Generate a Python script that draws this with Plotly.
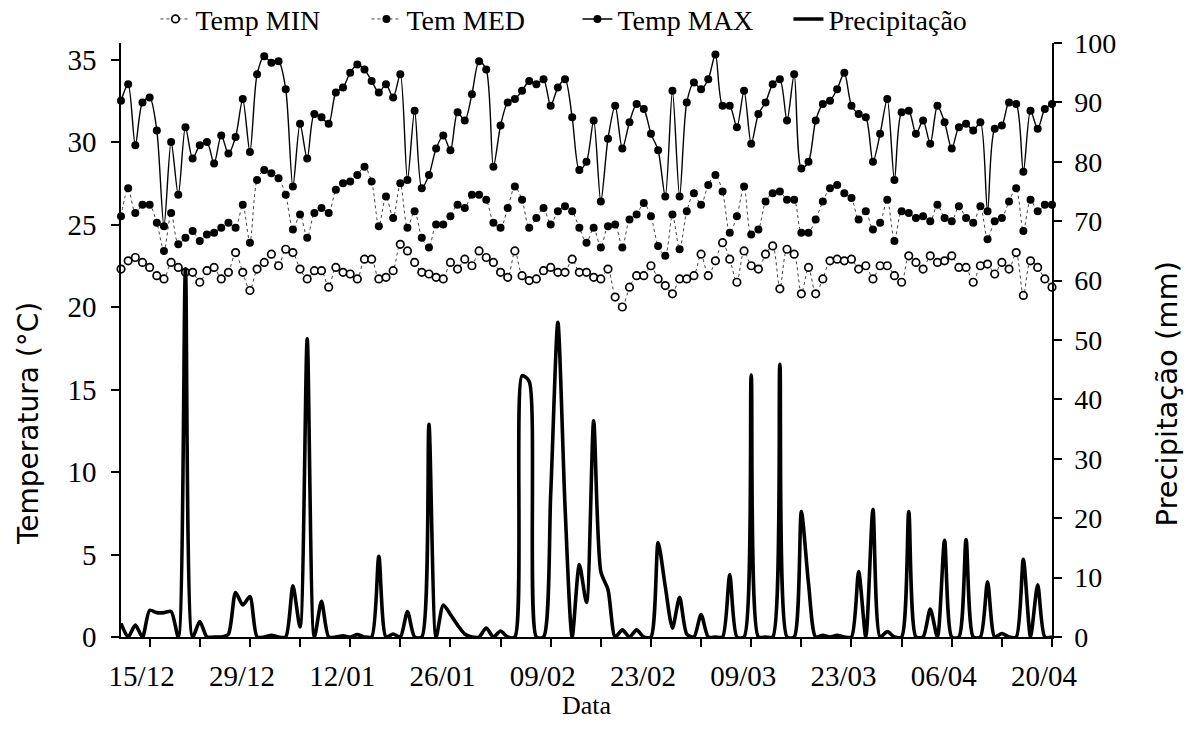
import pandas as pd
import plotly.graph_objects as go

# ---- data (daily, 11/12 to 20/04) ----
start_date = "2014-12-11"
end_date = "2015-04-20"

temp_min = [
    22.3, 22.8, 23.0, 22.7, 22.4, 21.9, 21.7, 22.7, 22.4, 22.1, 22.1, 21.5, 22.2, 22.4, 21.7, 22.1, 23.3,
    22.1, 21.0, 22.3, 22.7, 23.2, 22.5, 23.5, 23.3, 22.3, 21.7, 22.2, 22.2, 21.2, 22.4, 22.1, 22.0, 21.7,
    22.9, 22.9, 21.7, 21.8, 22.2, 23.8, 23.4, 22.7, 22.1, 22.0, 21.8, 21.7, 22.7, 22.3, 22.9, 22.5,
    23.4, 23.0, 22.7, 22.1, 21.8, 23.4, 21.9, 21.6, 21.7, 22.2, 22.4, 22.1, 22.1, 22.9, 22.1, 22.1,
    21.8, 21.7, 22.3, 20.6, 20.0, 21.2, 21.9, 21.9, 22.5, 21.7, 21.3, 20.8, 21.7, 21.7, 21.9, 23.2,
    21.9, 22.8, 23.9, 22.9, 21.5, 23.4, 22.5, 22.3, 23.2, 23.7, 21.1, 23.5, 23.2, 20.8, 22.4, 20.8,
    21.7, 22.8, 22.9, 22.8, 22.9, 22.3, 22.5, 21.7, 22.5, 22.5, 21.9, 21.5, 23.1, 22.7, 22.3, 23.1,
    22.7, 22.8, 23.1, 22.4, 22.4, 21.5, 22.5, 22.6, 22.0, 22.7, 22.3, 23.3, 20.7, 22.8, 22.4, 21.7, 21.2,
]

temp_med = [
    25.5, 27.2, 25.7, 26.2, 26.2, 25.1, 23.4, 25.7, 23.8, 24.2, 24.6, 24.0, 24.4, 24.5, 24.8, 25.1, 24.8,
    26.2, 23.9, 27.7, 28.3, 28.1, 27.8, 26.8, 24.7, 25.6, 24.2, 25.7, 26.0, 25.7, 27.1, 27.5, 27.6, 28.0,
    28.5, 27.6, 24.9, 26.7, 25.4, 27.5, 24.8, 25.8, 24.2, 23.6, 25.0, 25.0, 25.5, 26.2, 26.0, 26.8,
    26.8, 26.5, 25.1, 24.8, 26.0, 27.3, 26.5, 24.8, 25.4, 26.0, 25.0, 25.8, 26.1, 25.8, 24.8, 23.9,
    24.8, 23.6, 24.9, 25.0, 23.6, 25.3, 25.6, 26.3, 25.5, 23.7, 23.1, 25.6, 23.5, 25.8, 26.9, 26.2,
    27.4, 28.0, 27.0, 24.5, 25.5, 27.3, 24.4, 24.7, 26.4, 26.9, 27.0, 26.5, 26.5, 24.5, 24.5, 25.3,
    26.4, 27.2, 27.4, 26.9, 26.6, 25.3, 25.8, 24.7, 25.1, 26.5, 24.0, 25.8, 25.7, 25.4, 25.5, 25.2,
    26.2, 25.4, 25.2, 26.1, 25.4, 25.1, 26.1, 24.1, 25.2, 25.4, 26.4, 27.2, 24.6, 26.5, 25.8, 26.2, 26.2,
]

temp_max = [
    32.5, 33.5, 29.8, 32.4, 32.7, 30.7, 24.9, 30.0, 26.8, 30.9, 29.0, 29.8, 30.0, 28.7, 30.4, 29.3, 30.3,
    32.6, 29.4, 34.1, 35.2, 34.8, 34.9, 33.2, 27.3, 31.1, 29.0, 31.7, 31.5, 31.1, 33.0, 33.3, 34.2, 34.7,
    34.4, 33.7, 33.0, 33.5, 32.7, 34.1, 27.7, 31.9, 27.2, 28.0, 29.6, 30.4, 29.5, 31.8, 31.3, 32.9,
    34.9, 34.4, 28.5, 31.0, 32.4, 32.6, 33.1, 33.7, 33.5, 33.8, 32.2, 33.3, 33.8, 31.5, 28.3, 28.8,
    31.3, 26.4, 30.2, 32.2, 29.6, 31.2, 32.3, 32.0, 30.5, 29.5, 26.7, 33.1, 26.7, 32.4, 33.6, 33.2,
    33.8, 35.3, 32.2, 32.2, 30.9, 33.1, 29.9, 31.7, 32.4, 33.5, 33.8, 31.3, 34.1, 28.4, 28.8, 31.3,
    32.3, 32.5, 33.2, 34.2, 32.2, 31.7, 31.5, 28.8, 30.5, 32.6, 27.7, 31.8, 31.9, 30.5, 31.3, 29.9,
    32.2, 31.2, 29.6, 30.9, 31.1, 30.7, 31.2, 25.8, 30.8, 31.0, 32.4, 32.3, 28.2, 31.9, 30.8, 32.0, 32.3,
]

precip = [
    2.3, 0, 2.0, 0, 4.5, 4.1, 4.1, 4.3, 0, 62.0,
    0, 2.6, 0, 0, 0, 0.5, 7.5, 5.4, 6.8, 0,
    0, 0.3, 0, 0, 8.6, 1.7, 50.2, 0, 6.0, 0,
    0, 0.2, 0, 0.4, 0, 0, 13.6, 0, 0.5, 0,
    4.3, 0, 0, 35.8, 0, 5.4, 3.8, 2.0, 0.5, 0,
    0, 1.5, 0, 1.0, 0, 0, 44.0, 43.0, 0, 0,
    24.0, 53.0, 22.0, 0, 12.2, 5.8, 36.4, 11.0, 8.0, 0,
    1.2, 0, 1.2, 0, 0, 15.9, 8.5, 1.5, 6.7, 0.5,
    0, 3.8, 0, 0, 0, 10.5, 0, 0, 44.1, 0,
    0, 0, 45.9, 0, 0, 21.1, 9.0, 0, 0.3, 0,
    0.3, 0, 0, 11.0, 0, 21.5, 0, 0.9, 0, 0,
    21.1, 0, 0, 4.7, 0, 16.3, 0, 0, 16.4, 0,
    0, 9.3, 0, 0.6, 0, 0, 13.1, 0, 8.8, 0,
    0,
]

x_tick_dates = ["2014-12-15", "2014-12-22", "2014-12-29", "2015-01-05", "2015-01-12", "2015-01-19",
                "2015-01-26", "2015-02-02", "2015-02-09", "2015-02-16", "2015-02-23", "2015-03-02",
                "2015-03-09", "2015-03-16", "2015-03-23", "2015-03-30", "2015-04-06", "2015-04-13",
                "2015-04-20"]
x_tick_labels = ["15/12", "", "29/12", "", "12/01", "", "26/01", "", "09/02", "", "23/02", "",
                 "09/03", "", "23/03", "", "06/04", "", "20/04"]
y_ticks = [0, 5, 10, 15, 20, 25, 30, 35]
y2_ticks = [0, 10, 20, 30, 40, 50, 60, 70, 80, 90, 100]

dates = pd.date_range(start_date, end_date, freq="D")

SERIF = "Liberation Serif"
SANS = "DejaVu Sans"

fig = go.Figure()

fig.add_trace(go.Scatter(
    x=dates, y=temp_min, name="Temp MIN", mode="lines+markers", cliponaxis=False,
    line=dict(color="#444", width=1, dash="dot", shape="spline", smoothing=0.8),
    marker=dict(symbol="circle", size=7.5, color="white", line=dict(color="black", width=1.7)),
))
fig.add_trace(go.Scatter(
    x=dates, y=temp_med, name="Tem MED", mode="lines+markers", cliponaxis=False,
    line=dict(color="#444", width=1, dash="dot", shape="spline", smoothing=0.8),
    marker=dict(symbol="circle", size=8, color="black"),
))
fig.add_trace(go.Scatter(
    x=dates, y=temp_max, name="Temp MAX", mode="lines+markers", cliponaxis=False,
    line=dict(color="black", width=1.4, shape="spline", smoothing=0.8),
    marker=dict(symbol="circle", size=8, color="black"),
))
fig.add_trace(go.Scatter(
    x=dates, y=precip, name="Precipitação", mode="lines", yaxis="y2",
    line=dict(color="black", width=3.6, shape="spline", smoothing=0.7),
))

axis_common = dict(
    showline=True, linecolor="black", linewidth=1.5, showgrid=False, zeroline=False,
    ticks="outside", ticklen=8, tickwidth=1.5, tickcolor="black",
)

fig.update_layout(
    width=1186, height=740,
    margin=dict(l=121, r=134, t=43, b=103, autoexpand=False),
    paper_bgcolor="white", plot_bgcolor="white",
    showlegend=True,
    legend=dict(
        orientation="h", x=0.037, xanchor="left", y=1.04, yanchor="middle",
        font=dict(family=SERIF, size=28, color="black"),
        bgcolor="rgba(0,0,0,0)", entrywidthmode="pixels", entrywidth=166,
    ),
    xaxis=dict(
        axis_common, type="date",
        range=[dates[0], dates[-1]],
        tickmode="array", tickvals=x_tick_dates, ticktext=x_tick_labels,
        tickfont=dict(family=SERIF, size=29, color="black"),
        ticklabelstandoff=4, ticklabelshift=-8,
    ),
    yaxis=dict(
        axis_common, range=[0, 36], tickmode="array", tickvals=y_ticks,
        tickfont=dict(family=SERIF, size=29, color="black"),
        ticklabelstandoff=9,
    ),
    yaxis2=dict(
        axis_common, overlaying="y", side="right", range=[0, 100],
        tickmode="array", tickvals=y2_ticks,
        tickfont=dict(family=SERIF, size=28, color="black"),
        ticklabelstandoff=7,
    ),
    annotations=[
        dict(text="Temperatura (°C)", xref="paper", yref="paper", x=-0.1, y=0.36,
             textangle=-90, showarrow=False, xanchor="center", yanchor="middle",
             font=dict(family=SANS, size=28, color="black")),
        dict(text="Precipitação (mm)", xref="paper", yref="paper", x=1.1235, y=0.41,
             textangle=-90, showarrow=False, xanchor="center", yanchor="middle",
             font=dict(family=SANS, size=29, color="black")),
        dict(text="Data", xref="paper", yref="paper", x=0.5, y=-0.115,
             showarrow=False, xanchor="center", yanchor="middle",
             font=dict(family=SERIF, size=26, color="black")),
    ],
)

fig.write_html("out.html", config={"displayModeBar": False},
               post_script="document.body.style.margin='0';")
